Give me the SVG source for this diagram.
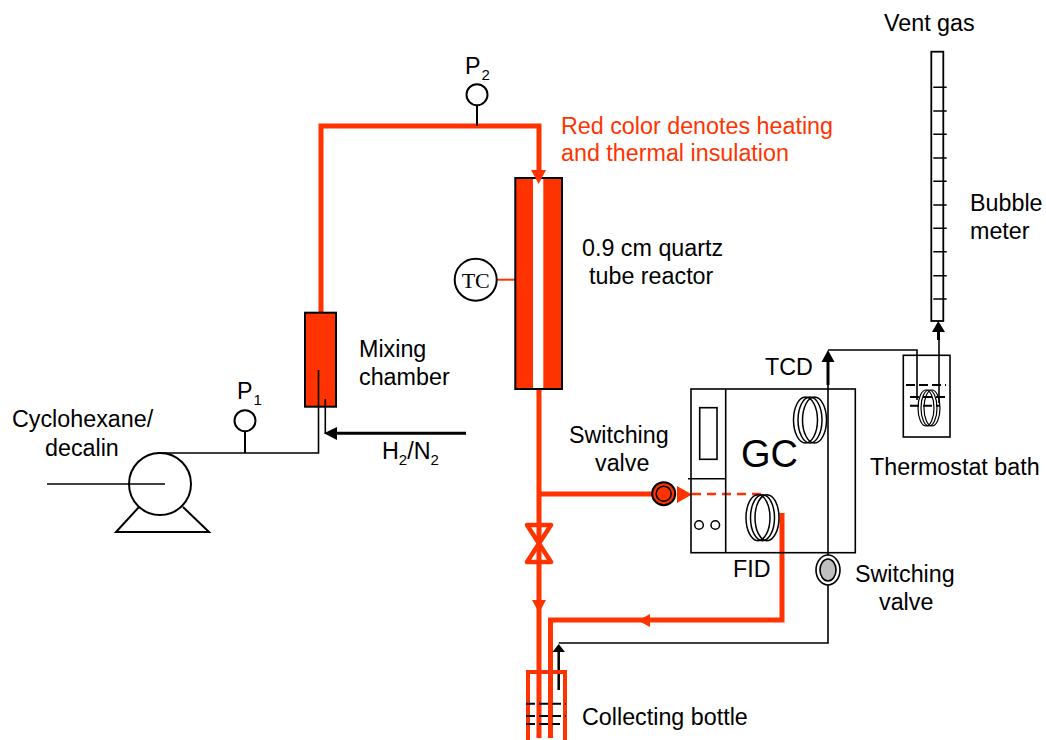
<svg xmlns="http://www.w3.org/2000/svg" width="1046" height="740" viewBox="0 0 1046 740">
<style>
text{font-family:"Liberation Sans",Arial,sans-serif;font-size:23.3px;fill:#000}
.red{fill:#ff3300}
.k{fill:none;stroke:#000;stroke-width:2}
.kt{fill:none;stroke:#000;stroke-width:1.6}
.r{fill:none;stroke:#ff3300;stroke-width:5}
.fr{fill:#ff3300;stroke:#000;stroke-width:2}
.wc{fill:#fff;stroke:#000;stroke-width:2}
.ah{fill:#000;stroke:none}
.rh{fill:#ff3300;stroke:none}
.d{stroke:#000;stroke-width:2;stroke-dasharray:9 4;fill:none}
.s{font-size:15px}
</style>
<rect width="1046" height="740" fill="#fff"/>
<g id="connectors">
<path class="r" d="M321 312V126H539V172"/>
<path class="k" d="M477 105V126"/>
<path class="kt" d="M318.5 370V453H157"/>
<path class="k" d="M245 431V453"/>
<path class="kt" d="M325.3 399V434"/>
<path d="M335 433.3H466" fill="none" stroke="#000" stroke-width="3"/>
<path class="ah" d="M324 433.3L337 427V440Z"/>
<path d="M515 279.7H496" fill="none" stroke="#ff3300" stroke-width="2"/>
<path class="r" d="M539 389V738"/>
<path class="r" d="M539 494H655"/>
<path class="rh" d="M532 600H546L539 613Z"/>
<path class="rh" d="M677 486V503L692 494.5Z"/>
<path d="M692 494H762" fill="none" stroke="#ff3300" stroke-width="2.5" stroke-dasharray="9 6"/>
<path class="r" d="M782 513V620H550.5V738"/>
<path class="rh" d="M638 620.5L650 614V627Z"/>
<path class="kt" d="M558.7 643H828V582"/>
<path d="M558.7 690V650" fill="none" stroke="#000" stroke-width="2.5"/>
<path class="ah" d="M558.7 644L565 652H552.5Z"/>
<path class="kt" d="M828 558V385"/>
<path d="M828 385V358" stroke="#000" stroke-width="3" fill="none"/>
<path class="ah" d="M828 350L834.5 362H821.5Z"/>
<path class="kt" d="M828 350H917V400"/>
<path d="M938.5 330V340" stroke="#000" stroke-width="3" fill="none"/>
<path class="kt" d="M939 340V403"/>
<path class="ah" d="M938.3 321L945 332H932Z"/>
</g>
<g id="pump">
<circle class="k" cx="160" cy="484" r="31"/>
<path class="k" d="M139 507L116 532H209L183 507"/>
<path class="kt" d="M47 484H165"/>
</g>
<g id="p1">
<circle class="wc" cx="245" cy="420.7" r="10.5"/>
<text x="237" y="399">P<tspan class="s" dy="6" dx="1">1</tspan></text>
</g>
<g id="p2">
<circle class="wc" cx="477" cy="94.7" r="10.5"/>
<text x="465" y="74">P<tspan class="s" dy="6" dx="1">2</tspan></text>
</g>
<g id="mixing-chamber">
<rect class="fr" x="305" y="312.7" width="31" height="94"/>
<path class="kt" d="M318.5 370V407M325.3 399V407"/>
<text x="359" y="357">Mixing</text>
<text x="359" y="385">chamber</text>
</g>
<g id="reactor">
<rect class="fr" x="515.3" y="178" width="46.7" height="211"/>
<rect x="533" y="179" width="10.3" height="209" fill="#fff"/>
<path class="rh" d="M531 170H546L538.7 184Z"/>
<text x="582" y="256">0.9 cm quartz</text>
<text x="589" y="284">tube reactor</text>
</g>
<g id="tc">
<circle class="wc" cx="475.7" cy="279.7" r="21"/>
<text x="475.7" y="288" text-anchor="middle" style="font-family:'Liberation Serif','Times New Roman',serif;font-size:22px">TC</text>
</g>
<g id="note">
<text x="561" y="134" style="fill:#ff3300">Red color denotes heating</text>
<text x="561" y="161" style="fill:#ff3300">and thermal insulation</text>
</g>
<g id="valve-top">
<circle cx="663.7" cy="493.7" r="11.5" fill="#ff3300" stroke="#000" stroke-width="2"/>
<circle cx="663.7" cy="493.7" r="7.5" fill="#ff3300" stroke="#000" stroke-width="1.5"/>
<text x="569" y="443">Switching</text>
<text x="595" y="471">valve</text>
</g>
<g id="valve-shutoff">
<path d="M527 525H551L527 562H551Z" fill="none" stroke="#ff3300" stroke-width="4.5" stroke-linejoin="round"/>
</g>
<g id="gc">
<rect x="691" y="389" width="164.3" height="163.7" fill="none" stroke="#000" stroke-width="1.6"/>
<path class="kt" d="M725.7 389V552.7M688 478.7H725.7"/>
<rect x="699.7" y="407.7" width="17.3" height="51.6" fill="none" stroke="#000" stroke-width="1.6"/>
<circle cx="699" cy="525" r="4.3" fill="none" stroke="#000" stroke-width="1.5"/>
<circle cx="715.3" cy="525" r="4.3" fill="none" stroke="#000" stroke-width="1.5"/>
<text x="741" y="467" style="font-size:38px">GC</text>
<g fill="none" stroke="#000" stroke-width="1.5">
<ellipse cx="805.5" cy="420" rx="12" ry="23"/><ellipse cx="810" cy="420" rx="12" ry="23"/><ellipse cx="814.5" cy="420" rx="12" ry="23"/>
<ellipse cx="758" cy="517.7" rx="12" ry="23"/><ellipse cx="762.5" cy="517.7" rx="12" ry="23"/><ellipse cx="767" cy="517.7" rx="12" ry="23"/>
</g>
<text x="765" y="375">TCD</text>
<text x="733" y="577">FID</text>
</g>
<g id="valve-bottom">
<ellipse cx="828" cy="570" rx="12" ry="15" fill="#fff" stroke="#000" stroke-width="1.6"/>
<ellipse cx="828" cy="570" rx="8" ry="11" fill="#bfbfbf" stroke="#000" stroke-width="1.6"/>
<text x="855" y="582">Switching</text>
<text x="879" y="610">valve</text>
</g>
<g id="bath">
<rect x="903.3" y="355.3" width="46.7" height="81.7" fill="none" stroke="#000" stroke-width="1.6"/>
<path class="d" d="M906 385H946"/>
<path class="d" d="M910 397H947"/>
<path class="d" d="M910 405.7H940"/>
<g fill="none" stroke="#000" stroke-width="1.2">
<ellipse cx="926" cy="408" rx="8" ry="18"/><ellipse cx="929" cy="408" rx="8" ry="18"/><ellipse cx="932" cy="408" rx="8" ry="18"/>
</g>
<text x="870" y="475">Thermostat bath</text>
</g>
<g id="bubble-meter">
<rect x="931.3" y="51.7" width="12" height="269.3" fill="none" stroke="#000" stroke-width="1.8"/>
<path class="kt" d="M933.3 87.3H946.7M933.3 111H946.7M933.3 134.3H946.7M933.3 158H946.7M933.3 181.3H946.7M933.3 205H946.7M933.3 228.3H946.7M933.3 251.7H946.7M933.3 275.7H946.7M933.3 299H946.7"/>
<text x="884" y="31">Vent gas</text>
<text x="970" y="211">Bubble</text>
<text x="970" y="239">meter</text>
</g>
<g id="bottle">
<path d="M528 740V672H565V740" fill="none" stroke="#ff3300" stroke-width="4"/>
<path class="d" d="M526 703.7H566"/>
<path class="d" d="M526 716H566"/>
<path class="d" d="M526 724H560"/>
<text x="582" y="725">Collecting bottle</text>
</g>
<g id="feed-labels">
<text x="12" y="427">Cyclohexane/</text>
<text x="45" y="456">decalin</text>
<text x="382" y="459">H<tspan class="s" dy="6">2</tspan><tspan dy="-6">/N</tspan><tspan class="s" dy="6">2</tspan></text>
</g>
</svg>
